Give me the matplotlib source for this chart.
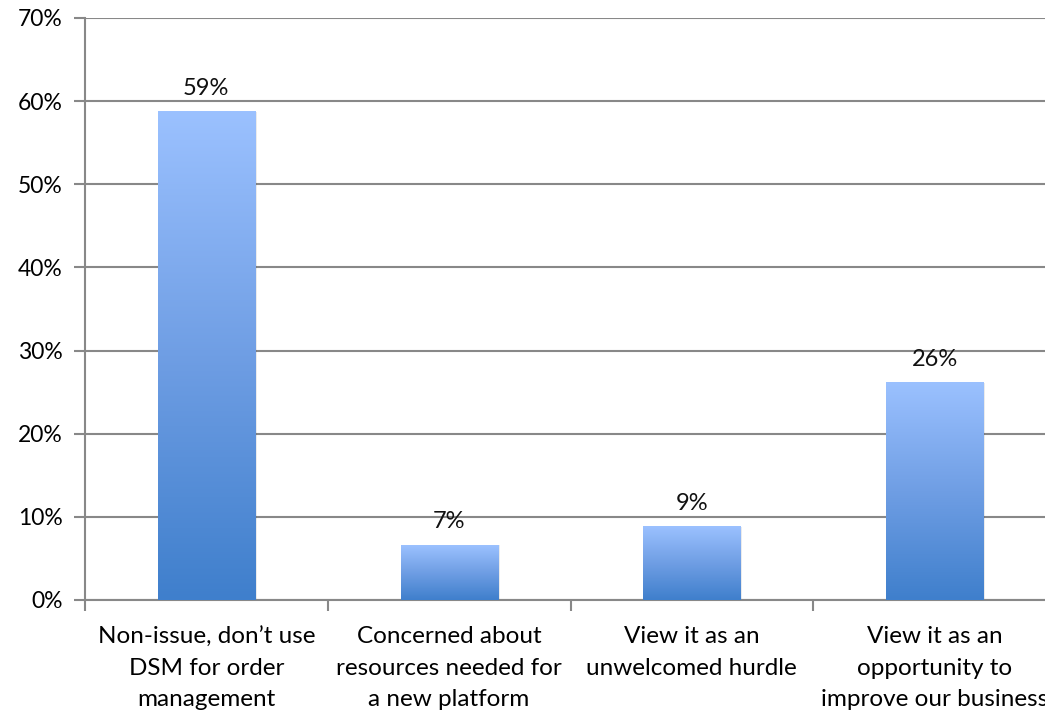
import numpy as np
import matplotlib.pyplot as plt
from matplotlib.colors import LinearSegmentedColormap

plt.rcParams['font.family'] = ['Lato', 'DejaVu Sans']

categories = ["Non-issue, don\u2019t use\nDSM for order\nmanagement",
              "Concerned about\nresources needed for\na new platform",
              "View it as an\nunwelcomed hurdle",
              "View it as an\nopportunity to\nimprove our business"]
values = [0.587, 0.066, 0.088, 0.261]
labels = ["59%", "7%", "9%", "26%"]
yticks = [0, 0.1, 0.2, 0.3, 0.4, 0.5, 0.6, 0.7]

fig = plt.figure(figsize=(10.45, 7.11), dpi=100)
ax = fig.add_axes([85 / 1045, 111 / 711, 971 / 1045, 582 / 711])

cmap = LinearSegmentedColormap.from_list("bar", ["#3f7fcc", "#6f9ee4", "#9bc1ff"])
grad = np.linspace(0, 1, 256).reshape(-1, 1)
x = np.arange(len(values))
w = 0.4
for xi, v, lab in zip(x, values, labels):
    # faint shadow on the right side
    ax.add_patch(plt.Rectangle((xi - w / 2 + 0.008, 0), w, v, color="#000000",
                               alpha=0.08, zorder=2, lw=0))
    ax.imshow(grad, extent=[xi - w / 2, xi + w / 2, 0, v], aspect="auto",
              cmap=cmap, origin="lower", zorder=3)
    ax.text(xi, v + 0.016, lab, ha="center", va="bottom", fontsize=17, color="#111111")

ax.set_xlim(-0.5, len(values) - 0.5)
ax.set_ylim(0, 0.7)
ax.set_yticks(yticks)
ax.set_yticklabels([f"{int(round(t * 100))}%" for t in yticks], fontsize=16.5)
ax.yaxis.grid(True, color="#888888", lw=1.5)
ax.set_axisbelow(True)

ax.set_xticks(np.arange(len(values) + 1) - 0.5)
ax.set_xticklabels([])
ax.set_xticks(x, minor=True)
ax.set_xticklabels(categories, minor=True, fontsize=17.5, linespacing=1.6)
ax.tick_params(axis="x", which="minor", length=0, pad=19)
ax.tick_params(axis="x", which="major", length=8, color="#888888", width=1.5)
ax.tick_params(axis="y", length=8, color="#888888", width=1.5, pad=8)

for s in ["top", "right"]:
    ax.spines[s].set_visible(False)
for s in ["left", "bottom"]:
    ax.spines[s].set_color("#888888")
    ax.spines[s].set_linewidth(1.5)

fig.savefig("out.png", dpi=100)
